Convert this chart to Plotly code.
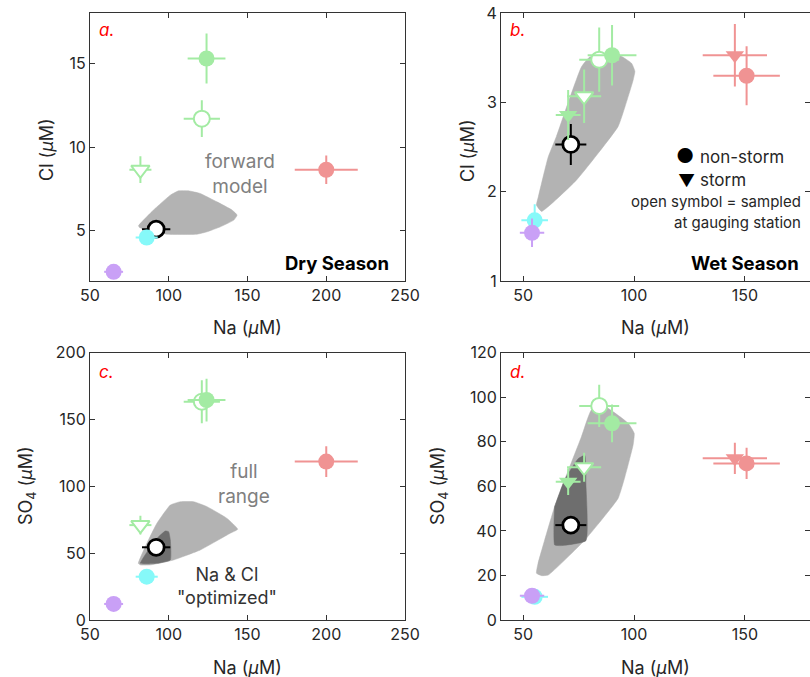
import plotly.graph_objects as go

# ---------------- data ----------------
# Dry season samples (panels a and c)
dry_sites = ["main_gauge", "trib_storm_gauge", "trib_gauge", "trib", "spring", "upper_a", "upper_b"]
dry_na = [92, 82, 121, 124, 200, 86, 65]
dry_na_err = [9, 7, 11.5, 12, 20, 7, 6]
dry_cl = [5.1, 8.65, 11.7, 15.3, 8.65, 4.6, 2.55]
dry_cl_err = [0.3, 0.8, 1.1, 1.5, 0.85, 0.25, 0.2]
dry_so4 = [54.4, 71, 163.3, 164.6, 118.5, 32.4, 12]
dry_so4_err = [3, 7, 16, 16, 11.5, 2.5, 2]

# Wet season samples (panels b and d)
wet_sites = ["main_gauge", "trib_storm", "trib_storm_gauge", "trib_gauge", "trib",
             "spring_storm", "spring", "upper_a", "upper_b"]
wet_na = [71.5, 70.3, 77.5, 84.3, 90.1, 145.5, 150.8, 55.2, 54.0]
wet_na_err = [7, 5.6, 7.7, 9, 11, 14.5, 15, 6, 5.5]
wet_cl = [2.53, 2.86, 3.07, 3.48, 3.53, 3.53, 3.30, 1.68, 1.54]
wet_cl_err = [0.23, 0.28, 0.3, 0.36, 0.34, 0.35, 0.33, 0.18, 0.16]
wet_so4 = [42.6, 62.1, 68.6, 96.1, 88.3, 72.6, 70.3, 10.4, 10.9]
wet_so4_err = [2, 6, 6.5, 9.5, 8.5, 7, 7, 1.5, 1.5]

# Forward-model envelopes (polygon outlines)
model_a_na = [80.8, 90.3, 101, 106.2, 112.6, 120, 130.6, 140.2, 143.4, 141.3, 132.8, 124.3, 118, 98.8, 86.1, 81.4]
model_a_cl = [5.3, 6.24, 7.13, 7.39, 7.39, 7.23, 6.73, 6.24, 5.94, 5.64, 5.24, 4.94, 4.8, 4.8, 5.04, 5.2]

model_b_na = [56.0, 58.3, 74.0, 92.8, 95.9, 99.6, 100.4, 98.9, 92.1, 86.8, 80.0, 76.3, 69.6, 65.0, 61.3, 56.8]
model_b_cl = [1.85, 1.78, 2.13, 2.73, 2.95, 3.25, 3.35, 3.44, 3.55, 3.55, 3.51, 3.40, 2.95, 2.62, 2.39, 1.94]

model_c_na = [80.7, 86.1, 92.5, 101, 107.3, 115.8, 124.3, 137, 143.8, 139, 120, 103, 88.2, 82]
model_c_so4 = [42.4, 57.4, 72.4, 86, 88.5, 88.5, 84.8, 76, 67.9, 64.9, 52.4, 44.9, 41.2, 41.2]
opt_c_na = [82, 87.1, 92.5, 97.8, 99.9, 101, 101, 92.5]
opt_c_so4 = [42.4, 52.4, 61.1, 66.6, 66.1, 59.9, 44.9, 42.4]

model_d_na = [56.0, 58.3, 61.3, 77.8, 92.8, 95.9, 99.6, 100.1, 97.4, 86.8, 80.8, 76.3, 68.7, 64.2, 59.7, 56.7]
model_d_so4 = [21.0, 19.9, 20.2, 35.9, 54.6, 64.3, 78.6, 83.8, 88.3, 95.8, 94.3, 82.3, 62.9, 50.9, 35.9, 25.4]
opt_d_na = [64.2, 64.2, 67.2, 78.3, 78.3, 77.8, 74.8, 68.7, 64.6]
opt_d_so4 = [50.9, 33.7, 33.4, 35.6, 61.4, 73.9, 72.4, 62.9, 52.0]

# ---------------- styles ----------------
GREEN = "#a3eba3"
SALMON = "#f09393"
CYAN = "#86f9f9"
PURPLE = "#c9a0f6"
LIGHT = "#b3b3b3"
DARK = "#6e6e6e"
AXC = "#333333"
FONT = "Inter, Liberation Sans, Arial, sans-serif"

# (symbol, edge colour, fill colour)
site_style = {
    "main_gauge": ("circle", "black", "white"),
    "trib_storm": ("triangle-down", GREEN, GREEN),
    "trib_storm_gauge": ("triangle-down", GREEN, "white"),
    "trib_gauge": ("circle", GREEN, "white"),
    "trib": ("circle", GREEN, GREEN),
    "spring_storm": ("triangle-down", SALMON, SALMON),
    "spring": ("circle", SALMON, SALMON),
    "upper_a": ("circle", CYAN, CYAN),
    "upper_b": ("circle", PURPLE, PURPLE),
}

fig = go.Figure()


def add_poly(xs, ys, color, ax):
    fig.add_trace(go.Scatter(
        x=xs + xs[:1], y=ys + ys[:1], mode="lines", fill="toself",
        fillcolor=color, line=dict(color=color, width=0.5, shape="spline", smoothing=0.4),
        xaxis="x" + ax, yaxis="y" + ax, hoverinfo="skip", showlegend=False))


def add_points(sites, xs, xerr, ys, yerr, ax):
    for i, s in enumerate(sites):
        sym, edge, fill = site_style[s]
        lw = 2.8 if s == "main_gauge" else 2
        fig.add_trace(go.Scatter(
            x=[xs[i]], y=[ys[i]], mode="markers",
            marker=dict(symbol=sym, size=16, color=fill,
                        line=dict(color=edge, width=lw if fill == "white" else 0)),
            error_x=dict(type="data", array=[xerr[i]], color=edge, thickness=2, width=0),
            error_y=dict(type="data", array=[yerr[i]], color=edge, thickness=2, width=0),
            xaxis="x" + ax, yaxis="y" + ax, hoverinfo="skip", showlegend=False))


# panel a: dry season, Na vs Cl
add_poly(model_a_na, model_a_cl, LIGHT, "")
add_points(dry_sites, dry_na, dry_na_err, dry_cl, dry_cl_err, "")
# panel b: wet season, Na vs Cl
add_poly(model_b_na, model_b_cl, LIGHT, "2")
add_points(wet_sites, wet_na, wet_na_err, wet_cl, wet_cl_err, "2")
# panel c: dry season, Na vs SO4
add_poly(model_c_na, model_c_so4, LIGHT, "3")
add_poly(opt_c_na, opt_c_so4, DARK, "3")
add_points(dry_sites, dry_na, dry_na_err, dry_so4, dry_so4_err, "3")
# panel d: wet season, Na vs SO4
add_poly(model_d_na, model_d_so4, LIGHT, "4")
add_poly(opt_d_na, opt_d_so4, DARK, "4")
add_points(wet_sites, wet_na, wet_na_err, wet_so4, wet_so4_err, "4")

W, H = 810, 677
left_dom = [90 / W, 405 / W]
right_dom = [501 / W, 1.0]
top_dom = [1 - 281 / H, 1 - 13.3 / H]
bot_dom = [1 - 620 / H, 1 - 352.7 / H]

axis_common = dict(showline=True, linecolor=AXC, linewidth=1, mirror="ticks",
                   ticks="inside", ticklen=5, tickcolor=AXC, tickwidth=1,
                   showgrid=False, zeroline=False, automargin=False,
                   tickfont=dict(family=FONT, size=16, color="#262626"))

layout = dict(
    width=W, height=H, margin=dict(l=0, r=0, t=0, b=0),
    paper_bgcolor="white", plot_bgcolor="white", showlegend=False,
    font=dict(family=FONT),
    xaxis=dict(domain=left_dom, range=[50, 250], tickvals=[50, 100, 150, 200, 250], anchor="y", **axis_common),
    yaxis=dict(domain=top_dom, range=[2, 18], tickvals=[5, 10, 15], anchor="x", **axis_common),
    xaxis2=dict(domain=right_dom, range=[40, 179.4], tickvals=[50, 100, 150], anchor="y2", **axis_common),
    yaxis2=dict(domain=top_dom, range=[1, 4], tickvals=[1, 2, 3, 4], anchor="x2", **axis_common),
    xaxis3=dict(domain=left_dom, range=[50, 250], tickvals=[50, 100, 150, 200, 250], anchor="y3", **axis_common),
    yaxis3=dict(domain=bot_dom, range=[0, 200], tickvals=[0, 50, 100, 150, 200], anchor="x3", **axis_common),
    xaxis4=dict(domain=right_dom, range=[40, 179.4], tickvals=[50, 100, 150], anchor="y4", **axis_common),
    yaxis4=dict(domain=bot_dom, range=[0, 120], tickvals=[0, 20, 40, 60, 80, 100, 120], anchor="x4", **axis_common),
)
fig.update_layout(**layout)

ann = []


def txt(text, x, y, xref, yref, size=16, color="#262626", xanchor="center", yanchor="middle", angle=0, align="center"):
    ann.append(dict(text=text, x=x, y=y, xref=xref, yref=yref, showarrow=False,
                    font=dict(family=FONT, size=size, color=color),
                    xanchor=xanchor, yanchor=yanchor, textangle=angle, align=align))


# axis titles
na_label = "Na (<i>μ</i>M)"
cl_label = "Cl (<i>μ</i>M)"
so4_label = "SO<sub>4</sub> (<i>μ</i>M)"
txt(na_label, 247.5 / W, 1 - 327 / H, "paper", "paper", size=18)
txt(na_label, 655.5 / W, 1 - 327 / H, "paper", "paper", size=18)
txt(na_label, 247.5 / W, 1 - 667 / H, "paper", "paper", size=18)
txt(na_label, 655.5 / W, 1 - 667 / H, "paper", "paper", size=18)
txt(cl_label, 47 / W, 1 - 150 / H, "paper", "paper", size=18, angle=-90)
txt(cl_label, 468 / W, 1 - 150 / H, "paper", "paper", size=18, angle=-90)
txt(so4_label, 27 / W, 1 - 486 / H, "paper", "paper", size=18, angle=-90)
txt(so4_label, 439 / W, 1 - 486 / H, "paper", "paper", size=18, angle=-90)

# panel letters
txt("<i>a.</i>", 54.5, 17.0, "x", "y", size=17, color="red", xanchor="left")
txt("<i>b.</i>", 43.1, 3.81, "x2", "y2", size=17, color="red", xanchor="left")
txt("<i>c.</i>", 54.5, 185.8, "x3", "y3", size=17, color="red", xanchor="left")
txt("<i>d.</i>", 43.1, 111.5, "x4", "y4", size=17, color="red", xanchor="left")

# panel text
txt("forward<br>model", 145.5, 8.42, "x", "y", size=19, color="#808080")
txt("<b>Dry Season</b>", 241, 3.07, "x", "y", size=18.5, color="black", xanchor="right")
txt("<b>Wet Season</b>", 175.3, 1.20, "x2", "y2", size=18.5, color="black", xanchor="right")
txt("full<br>range", 147.6, 101.6, "x3", "y3", size=19, color="#808080")
txt("Na &amp; Cl<br>\"optimized\"", 137, 25.6, "x3", "y3", size=18, color="#333333")

# symbol key
txt("●", 122.9, 2.40, "x2", "y2", size=20, color="black")
txt("non-storm", 128.7, 2.39, "x2", "y2", size=17, xanchor="left")
txt("▼", 123.7, 2.12, "x2", "y2", size=17, color="black")
txt("storm", 128.7, 2.13, "x2", "y2", size=17, xanchor="left")
txt("open symbol = sampled", 176.2, 1.89, "x2", "y2", size=15, xanchor="right")
txt("at gauging station", 176.2, 1.65, "x2", "y2", size=15, xanchor="right")

fig.update_layout(annotations=ann)
fig.write_html("out.html")
